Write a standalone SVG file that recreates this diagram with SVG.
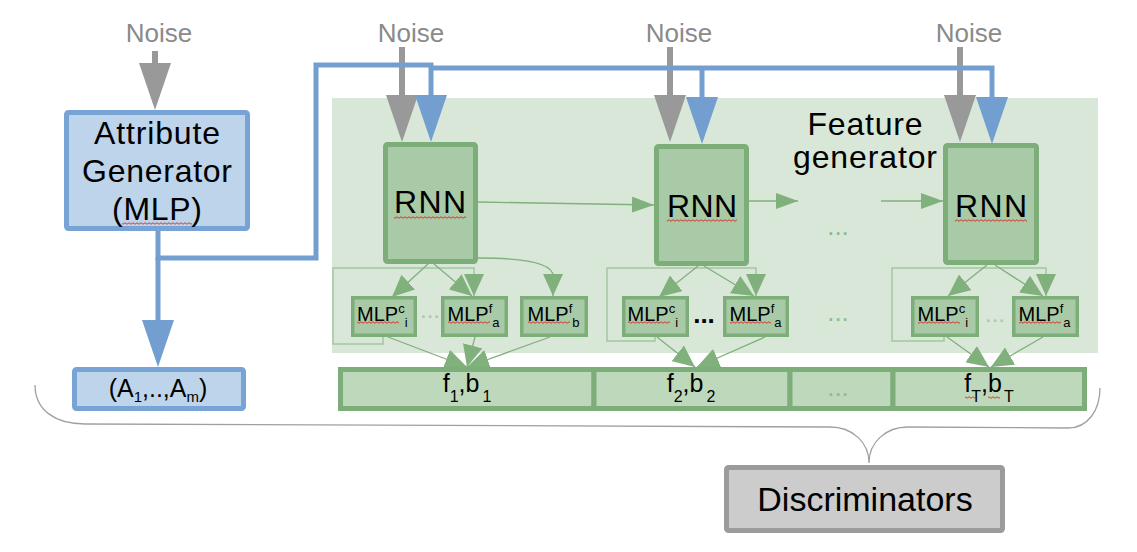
<svg xmlns="http://www.w3.org/2000/svg" width="1137" height="552" viewBox="0 0 1137 552">
<style>
  text { font-family: "Liberation Sans", Arial, sans-serif; }
  .noise { font-size: 26px; fill: #8a8a8a; text-anchor: middle; }
  .big { font-size: 32px; fill: #000; text-anchor: middle; }
  .blueBox { fill: #bdd4eb; stroke: #78a3d5; stroke-width: 5; }
  .rnn { fill: #a9caa6; stroke: #7dae79; stroke-width: 5; }
  .mlp { fill: #a9caa6; stroke: #7dae79; stroke-width: 3.5; }
  .mlpT { font-size: 20px; fill: #000; }
  .bar { fill: #bed8bc; stroke: #7dae79; stroke-width: 5; }
  .barT { font-size: 25px; fill: #000; text-anchor: middle; }
  .thin { fill: none; stroke: #80b07c; stroke-width: 1.3; }
  .loop { fill: none; stroke: #a2c89f; stroke-width: 1.5; }
  .blueL { fill: none; stroke: #729fcf; stroke-width: 5; }
  .grayL { fill: none; stroke: #999999; stroke-width: 6; }
  .dotsG { font-size: 26px; fill: #8dbb89; text-anchor: middle; }
  .dotsL { font-size: 24px; fill: #a7cba4; text-anchor: middle; }
  .wave { fill: url(#wave); }
</style>
<defs>
  <marker id="ab" viewBox="0 -16 47 32" refX="0" refY="0" markerWidth="47" markerHeight="32" markerUnits="userSpaceOnUse" orient="auto">
    <path d="M0,-16 L47,0 L0,16Z" fill="#729fcf"/>
  </marker>
  <marker id="ag" viewBox="0 -16 47 32" refX="0" refY="0" markerWidth="47" markerHeight="32" markerUnits="userSpaceOnUse" orient="auto">
    <path d="M0,-16 L47,0 L0,16Z" fill="#999999"/>
  </marker>
  <marker id="ah" viewBox="0 -10 22 20" refX="22" refY="0" markerWidth="22" markerHeight="20" markerUnits="userSpaceOnUse" orient="auto">
    <path d="M0,-10 L22,0 L0,10Z" fill="#80b07c"/>
  </marker>
  <marker id="ahs" viewBox="0 -8 22 16" refX="22" refY="0" markerWidth="22" markerHeight="16" markerUnits="userSpaceOnUse" orient="auto">
    <path d="M0,-8 L22,0 L0,8Z" fill="#80b07c"/>
  </marker>
  <pattern id="wave" patternUnits="userSpaceOnUse" width="4" height="3">
    <path d="M0,1.5 Q1,0 2,1.5 T4,1.5" fill="none" stroke="#e02020" stroke-width="0.9"/>
  </pattern>
</defs>

<rect width="1137" height="552" fill="#ffffff"/>

<!-- Feature generator background -->
<g id="feature-generator">
  <rect x="332" y="98" width="766" height="255" fill="#d9e7d8"/>
  <text class="big" x="865" y="135" textLength="115" lengthAdjust="spacing">Feature</text>
  <text class="big" x="865" y="168" textLength="144" lengthAdjust="spacing">generator</text>
</g>

<!-- Noise labels -->
<g id="noise-1"><text class="noise" x="159" y="42">Noise</text></g>
<g id="noise-2"><text class="noise" x="411" y="42">Noise</text></g>
<g id="noise-3"><text class="noise" x="679" y="42">Noise</text></g>
<g id="noise-4"><text class="noise" x="969" y="42">Noise</text></g>

<!-- Connectors -->
<g id="connectors">
  <!-- gray noise arrows -->
  <path class="grayL" d="M155,51 V63" marker-end="url(#ag)"/>
  <path class="grayL" d="M402,47 V95" marker-end="url(#ag)"/>
  <path class="grayL" d="M670,47 V95" marker-end="url(#ag)"/>
  <path class="grayL" d="M960,47 V95" marker-end="url(#ag)"/>
  <!-- blue attribute lines -->
  <path class="blueL" d="M158,231 V258 H316 V65 H431 V95" marker-end="url(#ab)"/>
  <path class="blueL" d="M431,68 H992 V97" marker-end="url(#ab)"/>
  <path class="blueL" d="M702,68 V97" marker-end="url(#ab)"/>
  <path class="blueL" d="M158,258 V320" marker-end="url(#ab)"/>
  <!-- RNN chain -->
  <path class="thin" d="M478,202 L654,205" marker-end="url(#ahs)"/>
  <path class="thin" d="M749,201 L798,201" marker-end="url(#ahs)"/>
  <path class="thin" d="M881,201 L943,201" marker-end="url(#ahs)"/>
  <!-- loops -->
  <path class="loop" d="M383,337 V344 H333 V268 H474 V296" marker-end="url(#ah)"/>
  <path class="loop" d="M655,336 V341 H607 V268 H756 V296" marker-end="url(#ah)"/>
  <path class="loop" d="M944,336 V341 H892 V268 H1046 V296" marker-end="url(#ah)"/>
  <!-- RNN to MLPs -->
  <path class="thin" d="M428,264 L392,297" marker-end="url(#ah)"/>
  <path class="thin" d="M434,264 L472,296" marker-end="url(#ah)"/>
  <path class="thin" d="M478,258 Q553,258 553,276 L553,296" marker-end="url(#ah)"/>
  <path class="thin" d="M698,266 L659,297" marker-end="url(#ah)"/>
  <path class="thin" d="M704,266 L754,296" marker-end="url(#ah)"/>
  <path class="thin" d="M987,265 L948,296" marker-end="url(#ah)"/>
  <path class="thin" d="M995,265 L1043,296" marker-end="url(#ah)"/>
  <!-- MLPs to outputs -->
  <path class="thin" d="M388,337 L467,367" marker-end="url(#ah)"/>
  <path class="thin" d="M475,337 L467,367" marker-end="url(#ah)"/>
  <path class="thin" d="M550,337 L467,367" marker-end="url(#ah)"/>
  <path class="thin" d="M657,337 L695,367" marker-end="url(#ah)"/>
  <path class="thin" d="M765,337 L697,367" marker-end="url(#ah)"/>
  <path class="thin" d="M947,337 L989,367" marker-end="url(#ah)"/>
  <path class="thin" d="M1043,337 L991,367" marker-end="url(#ah)"/>
  <!-- brace to discriminators -->
  <path d="M35,385 C35,410 55,424 85,424 L830,427 C852,427 869,442 869,463 C869,442 886,427 908,427 L1068,428 C1088,428 1100,410 1100,388" fill="none" stroke="#a0a0a0" stroke-width="1.3"/>
</g>

<!-- Attribute generator -->
<g id="attribute-generator">
  <rect class="blueBox" x="66.5" y="112.5" width="181" height="116" rx="2"/>
  <text class="big" x="157" y="144" textLength="126" lengthAdjust="spacing">Attribute</text>
  <text class="big" x="157" y="182" textLength="150" lengthAdjust="spacing">Generator</text>
  <text class="big" x="157" y="220" textLength="90" lengthAdjust="spacing">(MLP)</text>
</g>

<g id="attributes-output">
  <rect class="blueBox" x="74.5" y="369.5" width="169" height="39" rx="2"/>
  <text x="158" y="397" font-size="25" text-anchor="middle">(A<tspan font-size="15" dy="5">1</tspan><tspan dy="-5">,..,A</tspan><tspan font-size="15" dy="5">m</tspan><tspan dy="-5">)</tspan></text>
</g>

<!-- RNNs -->
<g id="rnn-1">
  <rect class="rnn" x="385.5" y="144.5" width="90" height="117" rx="2"/>
  <text class="big" x="430" y="213" textLength="72" lengthAdjust="spacing">RNN</text>
</g>
<g id="rnn-2">
  <rect class="rnn" x="656.5" y="146.5" width="90" height="117" rx="2"/>
  <text class="big" x="702" y="217" textLength="70" lengthAdjust="spacing">RNN</text>
</g>
<g id="rnn-3">
  <rect class="rnn" x="945.5" y="145.5" width="91" height="117" rx="2"/>
  <text class="big" x="991" y="217" textLength="72" lengthAdjust="spacing">RNN</text>
</g>
<g id="ellipsis-rnn"><text class="dotsG" x="838" y="235">...</text></g>

<!-- MLPs step 1 -->
<g id="mlp-c-1">
  <rect class="mlp" x="352.75" y="297.75" width="62.5" height="37.5"/>
  <text class="mlpT" x="357" y="321">MLP<tspan font-size="13" dy="-8">c</tspan><tspan font-size="13" dy="14">i</tspan></text>
</g>
<g id="ellipsis-1"><text class="dotsL" x="430" y="318">...</text></g>
<g id="mlp-fa-1">
  <rect class="mlp" x="442.75" y="297.75" width="63.5" height="37.5"/>
  <text class="mlpT" x="447.5" y="321">MLP<tspan font-size="13" dy="-8">f</tspan><tspan font-size="13" dy="14">a</tspan></text>
</g>
<g id="mlp-fb-1">
  <rect class="mlp" x="521.75" y="297.75" width="64.5" height="37.5"/>
  <text class="mlpT" x="527.5" y="321">MLP<tspan font-size="13" dy="-8">f</tspan><tspan font-size="13" dy="14">b</tspan></text>
</g>

<!-- MLPs step 2 -->
<g id="mlp-c-2">
  <rect class="mlp" x="623.75" y="297.75" width="63.5" height="37.5"/>
  <text class="mlpT" x="627.5" y="321">MLP<tspan font-size="13" dy="-8">c</tspan><tspan font-size="13" dy="14">i</tspan></text>
</g>
<g id="ellipsis-2"><text x="704" y="323" font-size="26" font-weight="bold" text-anchor="middle" fill="#000">...</text></g>
<g id="mlp-fa-2">
  <rect class="mlp" x="724.75" y="297.75" width="62.5" height="37.5"/>
  <text class="mlpT" x="729.5" y="321">MLP<tspan font-size="13" dy="-8">f</tspan><tspan font-size="13" dy="14">a</tspan></text>
</g>
<g id="ellipsis-mid"><text class="dotsG" x="838" y="321">...</text></g>

<!-- MLPs step T -->
<g id="mlp-c-3">
  <rect class="mlp" x="912.75" y="297.75" width="64.5" height="37.5"/>
  <text class="mlpT" x="917.5" y="321">MLP<tspan font-size="13" dy="-8">c</tspan><tspan font-size="13" dy="14">i</tspan></text>
</g>
<g id="ellipsis-3"><text class="dotsL" x="995" y="322">...</text></g>
<g id="mlp-fa-3">
  <rect class="mlp" x="1013.75" y="297.75" width="63.5" height="37.5"/>
  <text class="mlpT" x="1018.5" y="321">MLP<tspan font-size="13" dy="-8">f</tspan><tspan font-size="13" dy="14">a</tspan></text>
</g>

<!-- Output bar -->
<g id="out-1">
  <rect class="bar" x="340.5" y="369.5" width="253.5" height="39"/>
  <text class="barT" x="467" y="392">f<tspan font-size="16" dy="10">1</tspan><tspan dy="-10">,b</tspan><tspan font-size="16" dx="3" dy="10">1</tspan></text>
</g>
<g id="out-2">
  <rect class="bar" x="594" y="369.5" width="196" height="39"/>
  <text class="barT" x="691" y="392">f<tspan font-size="16" dy="10">2</tspan><tspan dy="-10">,b</tspan><tspan font-size="16" dx="3" dy="10">2</tspan></text>
</g>
<g id="out-dots">
  <rect class="bar" x="790" y="369.5" width="103" height="39"/>
  <text class="dotsG" x="838" y="396">...</text>
</g>
<g id="out-T">
  <rect class="bar" x="893" y="369.5" width="191.5" height="39"/>
  <text class="barT" x="989" y="392">f<tspan font-size="16" dy="10">T</tspan><tspan dy="-10">,b</tspan><tspan font-size="16" dx="2" dy="10">T</tspan></text>
</g>

<!-- Discriminators -->
<g id="discriminators">
  <rect x="726.5" y="467.5" width="276" height="63" rx="2" fill="#cccccc" stroke="#9b9b9b" stroke-width="5"/>
  <text x="865" y="511" font-size="34" text-anchor="middle" fill="#000">Discriminators</text>
</g>

<!-- spell-check underlines as seen in the picture -->
<g id="spellcheck-marks">
  <rect class="wave" x="122" y="222" width="70" height="3"/>
  <rect class="wave" x="394" y="216" width="72" height="3"/>
  <rect class="wave" x="667" y="219" width="70" height="3"/>
  <rect class="wave" x="955" y="219" width="72" height="3"/>
  <rect class="wave" x="357" y="321" width="42" height="3"/>
  <rect class="wave" x="448" y="321" width="42" height="3"/>
  <rect class="wave" x="528" y="321" width="42" height="3"/>
  <rect class="wave" x="628" y="321" width="42" height="3"/>
  <rect class="wave" x="730" y="321" width="41" height="3"/>
  <rect class="wave" x="918" y="321" width="42" height="3"/>
  <rect class="wave" x="1019" y="321" width="42" height="3"/>
  <rect class="wave" x="965" y="396" width="10" height="3"/>
  <rect class="wave" x="988" y="396" width="12" height="3"/>
</g>
</svg>
